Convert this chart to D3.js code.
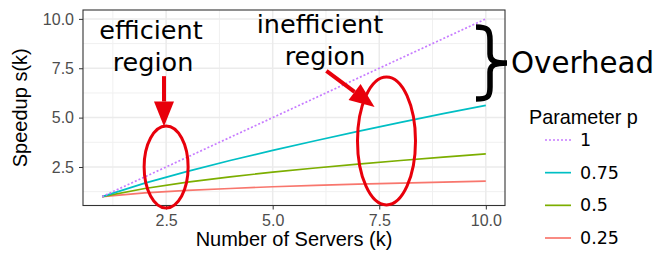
<!DOCTYPE html>
<html>
<head>
<meta charset="utf-8">
<script src="https://cdn.jsdelivr.net/npm/d3@7"></script>
<style>
  body { margin: 0; background: #fff; }
  .axis text { font-family: "Liberation Sans", Arial, sans-serif; fill: #4D4D4D; }
  .axis path { display: none; }
  .axis line { stroke: #333333; }
</style>
</head>
<body>
<div id="chart"></div>
<script>
// Values
var servers = [1, 2, 3, 4, 5, 6, 7, 8, 9, 10];
var params = ["1", "0.75", "0.5", "0.25"];
var speedup_1 = [1, 2, 3, 4, 5, 6, 7, 8, 9, 10];
var speedup_075 = [1, 1.68, 2.28, 2.83, 3.34, 3.83, 4.30, 4.76, 5.20, 5.62];
var speedup_05 = [1, 1.41, 1.73, 2.00, 2.24, 2.45, 2.65, 2.83, 3.00, 3.16];
var speedup_025 = [1, 1.19, 1.32, 1.41, 1.50, 1.57, 1.63, 1.68, 1.73, 1.78];
var x_ticks = [2.5, 5, 7.5, 10];
var y_ticks = [2.5, 5, 7.5, 10];
var colours = ["#C77CFF", "#00BFC4", "#7CAE00", "#F8766D"];

var series = [speedup_1, speedup_075, speedup_05, speedup_025].map(function (vals, i) {
    return {p: params[i], colour: colours[i], values: vals.map((v, j) => ({k: servers[j], s: v}))};
});

const width = 653, height = 254;
const panel = {left: 83, right: 505, top: 10, bottom: 205.5};

var svg = d3.select("#chart").append("svg")
    .attr("width", width)
    .attr("height", height);

var x_scale = d3.scaleLinear().domain([0.55, 10.45]).range([panel.left, panel.right]);
var y_scale = d3.scaleLinear().domain([0.55, 10.45]).range([panel.bottom, panel.top]);

var minor = [1.25, 3.75, 6.25, 8.75];

// Grid lines
var grid = svg.append("g");
grid.selectAll("line.vminor").data(minor).enter().append("line")
    .attr("x1", d => x_scale(d)).attr("x2", d => x_scale(d))
    .attr("y1", panel.top).attr("y2", panel.bottom)
    .attr("stroke", "#F0F0F0").attr("stroke-width", 1);
grid.selectAll("line.hminor").data(minor).enter().append("line")
    .attr("y1", d => y_scale(d)).attr("y2", d => y_scale(d))
    .attr("x1", panel.left).attr("x2", panel.right)
    .attr("stroke", "#F0F0F0").attr("stroke-width", 1);
grid.selectAll("line.vmajor").data(x_ticks).enter().append("line")
    .attr("x1", d => x_scale(d)).attr("x2", d => x_scale(d))
    .attr("y1", panel.top).attr("y2", panel.bottom)
    .attr("stroke", "#EBEBEB").attr("stroke-width", 1.5);
grid.selectAll("line.hmajor").data(y_ticks).enter().append("line")
    .attr("y1", d => y_scale(d)).attr("y2", d => y_scale(d))
    .attr("x1", panel.left).attr("x2", panel.right)
    .attr("stroke", "#EBEBEB").attr("stroke-width", 1.5);

// The lines
var line = d3.line().x(d => x_scale(d.k)).y(d => y_scale(d.s));
svg.append("g").selectAll("path").data(series.slice().reverse()).enter().append("path")
    .attr("d", d => line(d.values))
    .attr("fill", "none")
    .attr("stroke", d => d.colour)
    .attr("stroke-width", 1.7)
    .attr("stroke-dasharray", d => d.p == "1" ? "2,2" : null);

// Panel border
svg.append("rect")
    .attr("x", panel.left).attr("y", panel.top)
    .attr("width", panel.right - panel.left).attr("height", panel.bottom - panel.top)
    .attr("fill", "none").attr("stroke", "#333333").attr("stroke-width", 1.1);

// Axes
svg.append("g").attr("class", "axis")
    .attr("transform", "translate(0," + panel.bottom + ")")
    .call(d3.axisBottom(x_scale).tickValues(x_ticks).tickFormat(d3.format(".1f")).tickSize(4).tickPadding(5))
    .selectAll("text").style("font-size", "16px");
svg.append("g").attr("class", "axis")
    .attr("transform", "translate(" + panel.left + ",0)")
    .call(d3.axisLeft(y_scale).tickValues(y_ticks).tickFormat(d3.format(".1f")).tickSize(4).tickPadding(5))
    .selectAll("text").style("font-size", "16px");

svg.append("text")
    .attr("x", (panel.left + panel.right) / 2).attr("y", 246)
    .attr("text-anchor", "middle")
    .style("font-family", "Liberation Sans, Arial, sans-serif").style("font-size", "20px")
    .text("Number of Servers (k)");
svg.append("text")
    .attr("transform", "translate(27," + (panel.top + panel.bottom) / 2 + ") rotate(-90)")
    .attr("text-anchor", "middle")
    .style("font-family", "Liberation Sans, Arial, sans-serif").style("font-size", "20px")
    .text("Speedup s(k)");

// Legend
var legend = svg.append("g");
legend.append("text")
    .attr("x", 529).attr("y", 124)
    .style("font-family", "Liberation Sans, Arial, sans-serif").style("font-size", "19.8px")
    .text("Parameter p");
var legend_y = d3.scalePoint().domain(params).range([140, 238]);
var keys = legend.selectAll("g.key").data(series).enter().append("g")
    .attr("transform", d => "translate(0," + legend_y(d.p) + ")");
keys.append("line")
    .attr("x1", 545).attr("x2", 571)
    .attr("stroke", d => d.colour).attr("stroke-width", 1.7)
    .attr("stroke-dasharray", d => d.p == "1" ? "2,2" : null);
keys.append("text")
    .attr("x", 580).attr("y", 6)
    .style("font-family", "DejaVu Sans, sans-serif").style("font-size", "17.5px")
    .text(d => d.p);

// Annotations
var note_font = "DejaVu Sans, sans-serif";
function note(x, y, size, txt) {
    svg.append("text").attr("x", x).attr("y", y).attr("text-anchor", "middle")
        .style("font-family", note_font).style("font-size", size + "px")
        .text(txt);
}
note(151, 39, 25.5, "efficient");
note(153, 71, 25.5, "region");
note(320, 33, 25.5, "inefficient");
note(325, 65, 25.5, "region");
svg.append("text").attr("x", 511).attr("y", 73)
    .style("font-family", note_font).style("font-size", "29.3px")
    .text("Overhead");

// Curly brace
svg.append("path")
    .attr("d", "M476,27 C488,27 490,30 490,40 L490,54 C490,61 495,63 507,63 C495,63 490,65 490,72 L490,87 C490,97 488,99 476,99")
    .attr("fill", "none").attr("stroke", "#000").attr("stroke-width", 5.5);

var red = "#E8000B";
// Ellipses, centred in data units
svg.append("ellipse")
    .attr("cx", x_scale(2.5)).attr("cy", y_scale(2.5)).attr("rx", 22).attr("ry", 41)
    .attr("fill", "none").attr("stroke", red).attr("stroke-width", 3);
svg.append("ellipse")
    .attr("cx", x_scale(7.67)).attr("cy", y_scale(3.82)).attr("rx", 29).attr("ry", 64)
    .attr("fill", "none").attr("stroke", red).attr("stroke-width", 3);

function arrow(x0, y0, x1, y1) {
    var ax = x_scale(x0), ay = y_scale(y0), bx = x_scale(x1), by = y_scale(y1);
    var ang = Math.atan2(by - ay, bx - ax);
    var head = 25, half = 10;
    var cx = bx - head * Math.cos(ang), cy = by - head * Math.sin(ang);
    svg.append("line")
        .attr("x1", ax).attr("y1", ay).attr("x2", cx).attr("y2", cy)
        .attr("stroke", red).attr("stroke-width", 4);
    var px = -Math.sin(ang) * half, py = Math.cos(ang) * half;
    svg.append("path")
        .attr("d", "M" + bx + "," + by + "L" + (cx + px) + "," + (cy + py) + "L" + (cx - px) + "," + (cy - py) + "Z")
        .attr("fill", red);
}
arrow(2.45, 7.1, 2.45, 4.55);
arrow(6.26, 7.37, 7.39, 5.54);
</script>
</body>
</html>
